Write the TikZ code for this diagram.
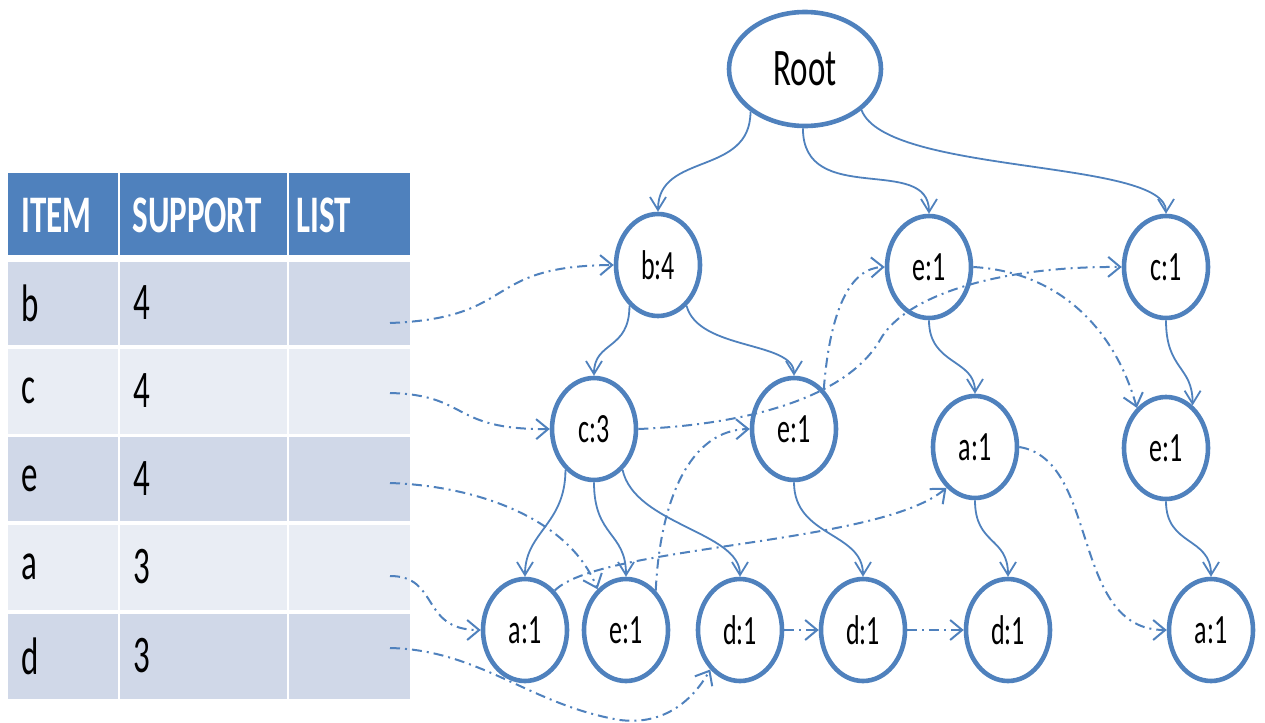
\documentclass[tikz,border=0pt]{standalone}
\usepackage{fontspec}
\setmainfont{Carlito}
\usepackage{graphicx}
\usetikzlibrary{arrows.meta,shapes.geometric}
\definecolor{ob}{RGB}{79,129,189}
\definecolor{rowdark}{RGB}{208,216,232}
\definecolor{rowlight}{RGB}{233,237,244}
\newcommand{\vst}[1]{\scalebox{1}[1.6]{#1}}
\begin{document}
\begin{tikzpicture}[x=0.5pt,y=-0.5pt,
  tnode/.style={ellipse, draw=ob, line width=2.3pt, fill=white, minimum width=42pt, minimum height=51pt, inner sep=0pt, font=\fontsize{13}{15}\selectfont},
  tedge/.style={draw=ob, line width=0.9pt, -{Straight Barb[length=6.5pt,width=8pt]}},
  link/.style={draw=ob, line width=1pt, dash pattern=on 5pt off 2.5pt on 1pt off 2.5pt, -{Straight Barb[length=6pt,width=10pt]}},
  hdrcell/.style={fill=ob},
  darkcell/.style={fill=rowdark},
  lightcell/.style={fill=rowlight},
  htext/.style={anchor=west, inner sep=0pt, text=white, font=\fontsize{16.5}{18}\selectfont\bfseries},
  btext/.style={anchor=west, inner sep=0pt, text=black, font=\fontsize{16.5}{18}\selectfont}
]
\useasboundingbox (0,0) rectangle (1265,723);
% ---------- table ----------
\fill[hdrcell] (8,173) rectangle (118,255);
\fill[hdrcell] (120,173) rectangle (287,255);
\fill[hdrcell] (289,173) rectangle (410,255);
\foreach \ya/\yb/\st in {262/345/darkcell,349/434/lightcell,437/521/darkcell,525/610/lightcell,614/699/darkcell}{
  \fill[\st] (8,\ya) rectangle (118,\yb);
  \fill[\st] (120,\ya) rectangle (287,\yb);
  \fill[\st] (289,\ya) rectangle (410,\yb);
}
\node[htext] (hitem) at (21,215) {\vst{ITEM}};
\node[htext] (hsup) at (132,215) {\vst{SUPPORT}};
\node[htext] (hlist) at (296,215) {\vst{LIST}};
\node[btext] (ib) at (21,303) {\vst{b}};
\node[btext] (sb) at (133,303) {\vst{4}};
\node[btext] (ic) at (21,391) {\vst{c}};
\node[btext] (sc) at (133,391) {\vst{4}};
\node[btext] (ie) at (21,479) {\vst{e}};
\node[btext] (se) at (133,479) {\vst{4}};
\node[btext] (ia) at (21,567) {\vst{a}};
\node[btext] (sa) at (133,567) {\vst{3}};
\node[btext] (id) at (21,656) {\vst{d}};
\node[btext] (sd) at (133,656) {\vst{3}};
\coordinate (lb) at (390,323);
\coordinate (lc) at (390,393);
\coordinate (le) at (390,483);
\coordinate (la) at (390,576);
\coordinate (ld) at (390,648);
% ---------- tree nodes ----------
\node[tnode, minimum width=76pt, minimum height=57pt, font=\fontsize{16.5}{18}\selectfont] (root) at (805,69) {\vst{Root}};
\node[tnode] (b4) at (658,265) {\vst{b:4}};
\node[tnode] (e1t) at (929,267) {\vst{e:1}};
\node[tnode] (c1) at (1166,267) {\vst{c:1}};
\node[tnode] (c3) at (594,429) {\vst{c:3}};
\node[tnode] (e1m) at (794,429) {\vst{e:1}};
\node[tnode] (a1m) at (975,447) {\vst{a:1}};
\node[tnode] (e1r) at (1166,448) {\vst{e:1}};
\node[tnode] (a1b) at (525,630) {\vst{a:1}};
\node[tnode] (e1b) at (626,630) {\vst{e:1}};
\node[tnode] (d1a) at (740,630) {\vst{d:1}};
\node[tnode] (d1b) at (863,630) {\vst{d:1}};
\node[tnode] (d1c) at (1008,630) {\vst{d:1}};
\node[tnode] (a1r) at (1211,630) {\vst{a:1}};
% ---------- tree edges ----------
\draw[tedge] (root.-142) .. controls +(0,65) and +(0,-60) .. (b4.north);
\draw[tedge] (root.-92) .. controls +(0,80) and +(0,-60) .. (e1t.north);
\draw[tedge] (root.-36) .. controls +(25,65) and +(0,-55) .. (c1.north);
\draw[tedge] (b4.-125) .. controls +(0,45) and +(0,-35) .. (c3.north);
\draw[tedge] (b4.-55) .. controls +(12,45) and +(0,-35) .. (e1m.north);
\draw[tedge] (c3.-125) .. controls +(0,55) and +(0,-45) .. (a1b.north);
\draw[tedge] (c3.south) .. controls +(0,55) and +(0,-45) .. (e1b.north);
\draw[tedge] (c3.-55) .. controls +(12,55) and +(0,-45) .. (d1a.north);
\draw[tedge] (e1m.south) .. controls +(0,55) and +(0,-45) .. (d1b.north);
\draw[tedge] (e1t.south) .. controls +(0,45) and +(0,-35) .. (a1m.north);
\draw[tedge] (c1.south) .. controls +(0,50) and +(0,-40) .. (e1r.58);
\draw[tedge] (a1m.south) .. controls +(0,45) and +(0,-40) .. (d1c.north);
\draw[tedge] (e1r.south) .. controls +(0,45) and +(0,-40) .. (a1r.north);
% ---------- node links ----------
\draw[link] (lb) .. controls (520,318) and (480,266) .. (b4.west);
\draw[link] (lc) .. controls (470,395) and (450,430) .. (c3.west);
\draw[link] (c3.east) .. controls (740,425) and (845,400) .. (880,340) .. controls (905,295) and (1000,266) .. (c1.west);
\draw[link] (le) .. controls (480,486) and (570,520) .. (e1b.125);
\draw[link] (e1b.53) .. controls (660,500) and (690,430) .. (e1m.west);
\draw[link] (e1m.53) .. controls (830,310) and (850,268) .. (e1t.west);
\draw[link] (e1t.east) .. controls (1060,272) and (1115,330) .. (e1r.126);
\draw[link] (la) .. controls (440,576) and (420,630) .. (a1b.west);
\draw[link] (a1b.53) .. controls (600,545) and (880,545) .. (a1m.235);
\draw[link] (a1m.east) .. controls (1100,460) and (1070,630) .. (a1r.west);
\draw[link] (ld) .. controls (480,650) and (530,705) .. (620,720) .. controls (660,725) and (690,705) .. (d1a.233);
\draw[link] (d1a.east) -- (d1b.west);
\draw[link] (d1b.east) -- (d1c.west);
\end{tikzpicture}
\end{document}
